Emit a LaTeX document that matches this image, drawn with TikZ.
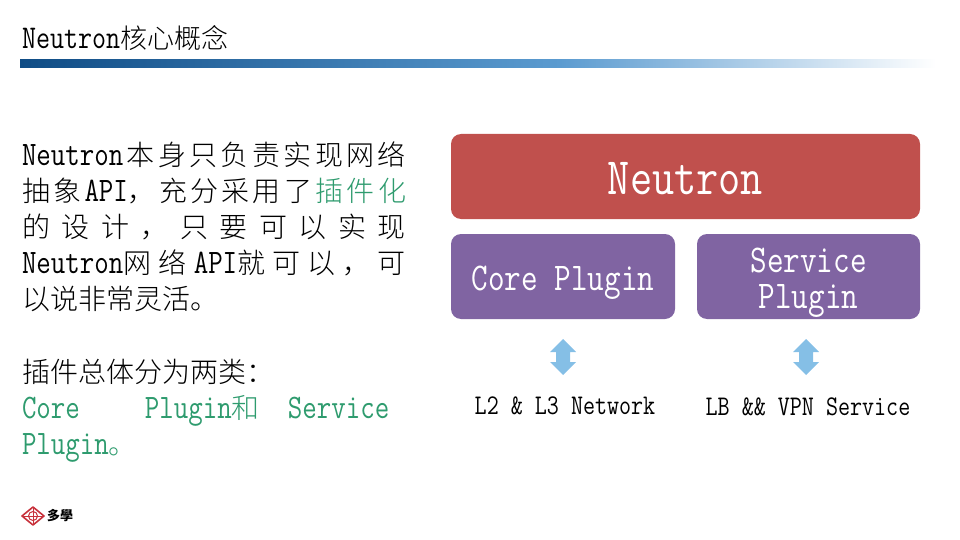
\documentclass[tikz,border=0pt]{standalone}
\usepackage{fontspec}
\setmonofont{Latin Modern Mono}[FakeStretch=0.82]
\newfontfamily\cjk{Noto Sans CJK SC Light}
\newfontfamily\cjkb{Noto Sans CJK SC}
\definecolor{redbox}{HTML}{C0504D}
\definecolor{purplebox}{HTML}{8064A2}
\definecolor{arrowblue}{HTML}{85BFE6}
\definecolor{accent}{HTML}{2E9B6E}
\definecolor{barA}{HTML}{0F4C85}
\definecolor{barB}{HTML}{5B9BD0}
\definecolor{logored}{HTML}{C8323C}
\newcommand{\Z}[1]{{\cjk\fontsize{28}{30}\selectfont #1}}
\newcommand{\G}[1]{\textcolor{accent}{#1}}
\newcommand{\Lt}[1]{\hbox to 384pt{#1}}
\newcommand{\Low}[2]{\raisebox{-#1pt}[\height][\depth]{#2}}
\newcommand{\Dbl}[2]{\fill[arrowblue,shift={(#1,#2)}] (0,-18) -- (13,-5) -- (7,-5) -- (7,5) -- (13,5) -- (0,18) -- (-13,5) -- (-7,5) -- (-7,-5) -- (-13,-5) -- cycle;}
\tikzset{
  bodyline/.style={anchor=base west,inner sep=0pt,outer sep=0pt,font=\ttfamily\fontsize{34.3}{36}\selectfont},
  box/.style={rounded corners=10pt,inner sep=0pt,text=white,align=center,minimum height=85pt},
  lbl/.style={inner sep=0pt,font=\ttfamily\fontsize{28.5}{30}\selectfont}
}
\begin{document}
\begin{tikzpicture}[x=1pt,y=-1pt]
\useasboundingbox (0,0) rectangle (960,540);
\node[bodyline,font=\ttfamily\fontsize{33.2}{36}\selectfont] (title) at (22,49) {Neutron{\cjk\fontsize{27}{30}\selectfont 核心概念}};
\shade[left color=barA,right color=barB] (20,60) rectangle (560,68);
\shade[left color=barB,right color=white] (560,60) rectangle (936,68);
\node[bodyline] (l1) at (22,165) {\Lt{Neutron\hfil\Z{本}\hfil\Z{身}\hfil\Z{只}\hfil\Z{负}\hfil\Z{责}\hfil\Z{实}\hfil\Z{现}\hfil\Z{网}\hfil\Z{络}}};
\node[bodyline] (l2) at (22,201) {\Lt{\Z{抽}\hfil\Z{象}\hfil API\Z{，}\hfil\Z{充}\hfil\Z{分}\hfil\Z{采}\hfil\Z{用}\hfil\Z{了}\hfil\G{\Z{插}}\hfil\G{\Z{件}}\hfil\G{\Z{化}}}};
\node[bodyline] (l3) at (22,237) {\Lt{\Z{的}\hfil\Z{设}\hfil\Z{计}\hfil\Z{，}\hfil\Z{只}\hfil\Z{要}\hfil\Z{可}\hfil\Z{以}\hfil\Z{实}\hfil\Z{现}}};
\node[bodyline] (l4) at (22,273) {\Lt{Neutron\Z{网}\hfil\Z{络}\hfil API\Z{就}\hfil\Z{可}\hfil\Z{以}\hfil\Z{，}\hfil\Z{可}}};
\node[bodyline] (l5) at (22,309) {\Z{以说非常灵活。}};
\node[bodyline] (l6) at (22,382) {\Z{插件总体分为两类：}};
\node[bodyline] (l7) at (22,418) {\G{Core}\hspace{65pt}\G{Plugin\Z{和}}\hspace{28pt}\G{Service}};
\node[bodyline] (l8) at (22,454) {\G{Plugin\Z{。}}};
\node[box,fill=redbox,minimum width=469pt,font=\ttfamily\fontsize{52.5}{54}\selectfont] (neutron) at (685.5,176.5) {\Low{2}{Neutron}};
\node[box,fill=purplebox,minimum width=224pt,font=\ttfamily\fontsize{39.3}{36}\selectfont] (core) at (563,276.5) {\Low{6}{Core Plugin}};
\node[box,fill=purplebox,minimum width=223pt,font=\ttfamily\fontsize{39.3}{36}\selectfont] (service) at (808.5,276.5) {\Low{6}{Service}\\\Low{6}{Plugin}};
\Dbl{563}{357}
\Dbl{806}{357}
\node[lbl] (net) at (565,406) {L2 \& L3 Network};
\node[lbl] (svc) at (808,407) {LB \&\& VPN Service};
% logo
\coordinate (lgw) at (22,516);
\coordinate (lge) at (44,516);
\coordinate (lgn) at (33,507);
\coordinate (lgs) at (33,525);
\draw[logored,line width=1.6pt,line join=round] (lgw) -- (lgn) -- (lge) -- (lgs) -- cycle;
\draw[logored,line width=1pt] (lgw) -- (lge) (lgn) -- (lgs);
\draw[logored,line width=1pt] (33,516) circle (4.5pt);
\node[inner sep=0pt,font=\cjkb\bfseries\fontsize{13}{14}\selectfont] (logo) at (60,516) {多學};
\end{tikzpicture}
\end{document}
